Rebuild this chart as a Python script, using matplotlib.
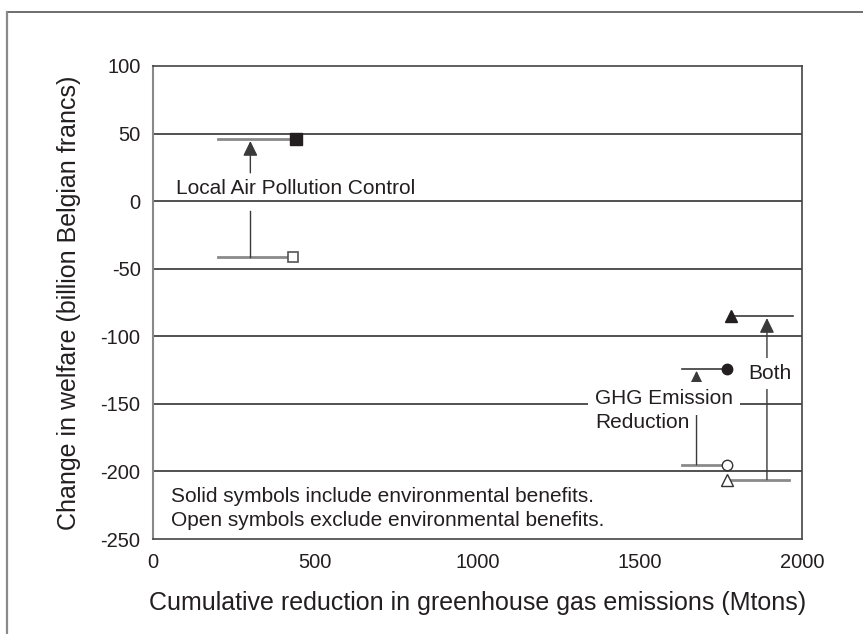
import matplotlib
matplotlib.use("Agg")
import matplotlib.pyplot as plt
from matplotlib.lines import Line2D

plt.rcParams['font.family'] = ['Liberation Sans', 'DejaVu Sans']
plt.rcParams['axes.unicode_minus'] = False

# axis ticks
x_ticks = [0, 500, 1000, 1500, 2000]
y_ticks = [100, 50, 0, -50, -100, -150, -200, -250]

# local air pollution control (solid = with env. benefits, open = without)
lapc_solid = (440, 46)
lapc_open = (430, -41)
lapc_line_start = 200
lapc_arrow_x = 300

# GHG emission reduction
ghg_solid = (1770, -124)
ghg_open = (1770, -195)
ghg_line_start = 1630
ghg_arrow_x = 1675

# both
both_solid = (1780, -85)
both_open = (1770, -206)
both_line_end_solid = 1972
both_line_end_open = 1960
both_arrow_x = 1892

txt = '#231f20'
hline = '#8a8a8a'
vline = '#3a3a3a'
arrow_style = '-|>,head_length=0.45,head_width=0.22'

fig = plt.figure(figsize=(8.63, 6.34), dpi=100)
ax = fig.add_axes([0.1773, 0.1498, 0.752, 0.7461])

# outer frame (top and left only)
fig.add_artist(Line2D([7/863, 1], [1 - 12/634, 1 - 12/634], color='#555555', lw=1.2))
fig.add_artist(Line2D([7/863, 7/863], [0, 1 - 12/634], color='#8a8a8a', lw=1.6))

for yv in [50, 0, -50, -100, -150, -200]:
    ax.axhline(yv, color='#333333', lw=1.2, zorder=1)

# local air pollution control
ax.plot([lapc_line_start, lapc_solid[0]], [lapc_solid[1], lapc_solid[1]], color=hline, lw=2, zorder=2)
ax.plot([lapc_line_start, lapc_open[0]], [lapc_open[1], lapc_open[1]], color=hline, lw=2, zorder=2)
ax.plot(lapc_solid[0], lapc_solid[1], marker='s', ms=8, color='#231f20', zorder=5)
ax.plot(lapc_open[0], lapc_open[1], marker='s', ms=7.5, mfc='white', mec='#555555', mew=1.2, zorder=5)
ax.annotate('', xy=(lapc_arrow_x, lapc_solid[1] - 1.5), xytext=(lapc_arrow_x, 21),
            arrowprops=dict(arrowstyle=arrow_style, mutation_scale=20,
                            color=vline, lw=1, shrinkA=0, shrinkB=0), zorder=3)
ax.plot([lapc_arrow_x, lapc_arrow_x], [-7, lapc_open[1]], color=vline, lw=1, zorder=3)
ax.text(71, 5, 'Local Air Pollution Control', fontsize=15, color=txt, va='baseline', ha='left')

# GHG emission reduction
ax.plot([ghg_line_start, ghg_solid[0]], [ghg_solid[1], ghg_solid[1]], color=vline, lw=1.2, zorder=2)
ax.plot([ghg_line_start, ghg_open[0]], [ghg_open[1], ghg_open[1]], color=hline, lw=2, zorder=2)
ax.annotate('', xy=(ghg_arrow_x, ghg_solid[1] - 1.5), xytext=(ghg_arrow_x, ghg_open[1]),
            arrowprops=dict(arrowstyle=arrow_style, mutation_scale=20,
                            color=vline, lw=1, shrinkA=0, shrinkB=0), zorder=3)
ax.plot(ghg_solid[0], ghg_solid[1], marker='o', ms=7.5, color='#231f20', zorder=5)
ax.plot(ghg_open[0], ghg_open[1], marker='o', ms=7.5, mfc='white', mec='#333333', mew=1, zorder=5)
ax.text(1362, -150, 'GHG Emission', fontsize=15, color=txt, va='baseline', ha='left', zorder=4,
        bbox=dict(boxstyle='square,pad=0.35', fc='white', ec='none'))
ax.text(1362, -168, 'Reduction', fontsize=15, color=txt, va='baseline', ha='left', zorder=4)

# both
ax.plot([both_solid[0], both_line_end_solid], [both_solid[1], both_solid[1]], color=vline, lw=1.2, zorder=2)
ax.plot([both_open[0], both_line_end_open], [both_open[1], both_open[1]], color=hline, lw=2, zorder=2)
ax.annotate('', xy=(both_arrow_x, both_solid[1] - 1.5), xytext=(both_arrow_x, both_open[1]),
            arrowprops=dict(arrowstyle=arrow_style, mutation_scale=20,
                            color=vline, lw=1, shrinkA=0, shrinkB=0), zorder=3)
ax.plot(both_solid[0], both_solid[1], marker='^', ms=8, color='#231f20', zorder=5)
ax.plot(both_open[0], both_open[1], marker='^', ms=8.5, mfc='white', mec='#333333', mew=1, zorder=5)
ax.text(1834, -131.5, 'Both', fontsize=15, color=txt, va='baseline', ha='left', zorder=4,
        bbox=dict(boxstyle='square,pad=0.3', fc='white', ec='none'))

# note
ax.text(55, -222.5, 'Solid symbols include environmental benefits.', fontsize=15, color=txt, va='baseline')
ax.text(55, -240, 'Open symbols exclude environmental benefits.', fontsize=15, color=txt, va='baseline')

ax.set_xlim(0, 2000)
ax.set_ylim(-250, 100)
ax.set_xticks(x_ticks)
ax.set_yticks(y_ticks)
ax.set_yticklabels([str(v) for v in y_ticks])
ax.tick_params(length=0, labelsize=14.5, labelcolor=txt)
ax.tick_params(axis='y', pad=9)
ax.tick_params(axis='x', pad=10)
ax.set_xlabel('Cumulative reduction in greenhouse gas emissions (Mtons)', fontsize=18, color=txt, labelpad=14)
ax.set_ylabel('Change in welfare (billion Belgian francs)', fontsize=18, color=txt, labelpad=14)

for side in ['top', 'right', 'bottom']:
    ax.spines[side].set_color('#444444')
    ax.spines[side].set_linewidth(1.2)
ax.spines['left'].set_color('#888888')
ax.spines['left'].set_linewidth(1.5)

fig.savefig('out.png', dpi=100)
